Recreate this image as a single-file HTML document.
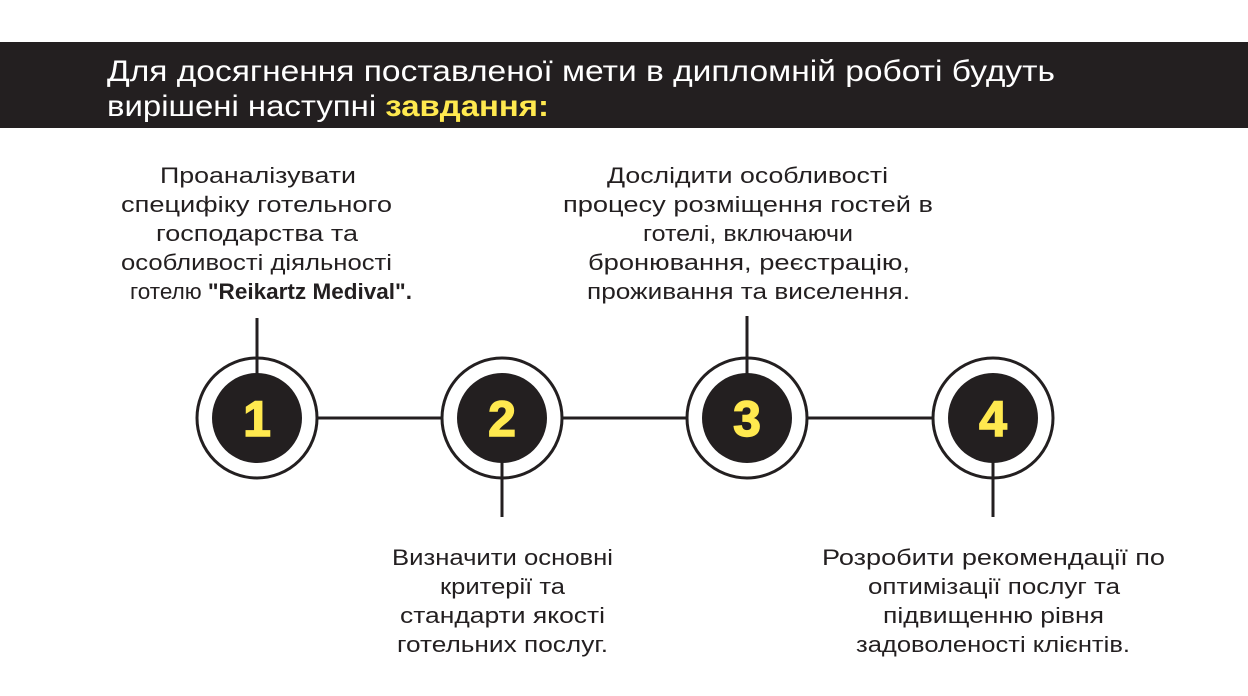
<!DOCTYPE html>
<html><head><meta charset="utf-8"><style>
html,body{margin:0;padding:0;background:#fff;}
svg{display:block;}
text{font-family:"Liberation Sans",sans-serif;}
</style></head><body>
<svg width="1248" height="696" viewBox="0 0 1248 696" xmlns="http://www.w3.org/2000/svg">
<rect x="0" y="0" width="1248" height="696" fill="#fff"/>
<rect x="0" y="42" width="1248" height="86" fill="#231f20"/>
<text x="107" y="81" font-size="30" fill="#fff" textLength="948" lengthAdjust="spacingAndGlyphs">Для досягнення поставленої мети в дипломній роботі будуть</text>
<text x="107" y="116" font-size="30" fill="#fff" textLength="442" lengthAdjust="spacingAndGlyphs">вирішені наступні <tspan fill="#ffe94f" font-weight="bold">завдання:</tspan></text>

<g stroke="#231f20" stroke-width="3" fill="none">
<line x1="317" y1="418" x2="442" y2="418"/>
<line x1="562" y1="418" x2="687" y2="418"/>
<line x1="807" y1="418" x2="933" y2="418"/>
<line x1="257" y1="318" x2="257" y2="375"/>
<line x1="502" y1="460" x2="502" y2="517"/>
<line x1="747" y1="316" x2="747" y2="375"/>
<line x1="993" y1="460" x2="993" y2="517"/>
<circle cx="257" cy="418" r="60"/>
<circle cx="502" cy="418" r="60"/>
<circle cx="747" cy="418" r="60"/>
<circle cx="993" cy="418" r="60"/>
</g>
<g fill="#231f20">
<circle cx="257" cy="418" r="45"/>
<circle cx="502" cy="418" r="45"/>
<circle cx="747" cy="418" r="45"/>
<circle cx="993" cy="418" r="45"/>
</g>
<g fill="#ffe94f" font-size="50" font-weight="bold" text-anchor="middle" stroke="#ffe94f" stroke-width="1.5">
<text x="257" y="436">1</text>
<text x="502" y="436">2</text>
<text x="747" y="436">3</text>
<text x="993" y="436">4</text>
</g>

<g font-size="22" fill="#231f20">
<text x="160" y="183" textLength="196" lengthAdjust="spacingAndGlyphs">Проаналізувати</text>
<text x="121" y="212" textLength="271" lengthAdjust="spacingAndGlyphs">специфіку готельного</text>
<text x="156" y="241" textLength="202" lengthAdjust="spacingAndGlyphs">господарства та</text>
<text x="121" y="270" textLength="271" lengthAdjust="spacingAndGlyphs">особливості діяльності</text>
<text x="130" y="299" textLength="282" lengthAdjust="spacingAndGlyphs">готелю <tspan font-weight="bold">"Reikartz Medival".</tspan></text>

<text x="607" y="183" textLength="281" lengthAdjust="spacingAndGlyphs">Дослідити особливості</text>
<text x="563" y="212" textLength="370" lengthAdjust="spacingAndGlyphs">процесу розміщення гостей в</text>
<text x="643" y="241" textLength="210" lengthAdjust="spacingAndGlyphs">готелі, включаючи</text>
<text x="588" y="270" textLength="322" lengthAdjust="spacingAndGlyphs">бронювання, реєстрацію,</text>
<text x="587" y="299" textLength="323" lengthAdjust="spacingAndGlyphs">проживання та виселення.</text>

<text x="392" y="565" textLength="221" lengthAdjust="spacingAndGlyphs">Визначити основні</text>
<text x="440" y="594" textLength="125" lengthAdjust="spacingAndGlyphs">критерії та</text>
<text x="400" y="623" textLength="205" lengthAdjust="spacingAndGlyphs">стандарти якості</text>
<text x="397" y="652" textLength="211" lengthAdjust="spacingAndGlyphs">готельних послуг.</text>

<text x="822" y="565" textLength="343" lengthAdjust="spacingAndGlyphs">Розробити рекомендації по</text>
<text x="868" y="594" textLength="252" lengthAdjust="spacingAndGlyphs">оптимізації послуг та</text>
<text x="883" y="623" textLength="221" lengthAdjust="spacingAndGlyphs">підвищенню рівня</text>
<text x="856" y="652" textLength="274" lengthAdjust="spacingAndGlyphs">задоволеності клієнтів.</text>
</g>
</svg>
</body></html>
